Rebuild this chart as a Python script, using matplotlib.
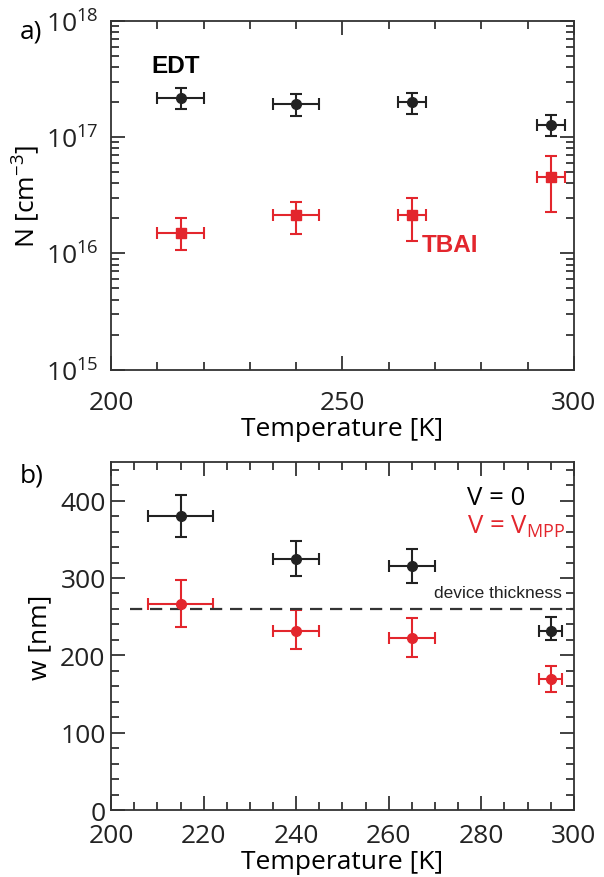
import matplotlib
matplotlib.use('Agg')
import matplotlib.pyplot as plt
import numpy as np

plt.rcParams['font.family'] = ['Open Sans', 'DejaVu Sans']
plt.rcParams['mathtext.fontset'] = 'custom'
plt.rcParams['mathtext.rm'] = 'Open Sans'
plt.rcParams['mathtext.it'] = 'Open Sans:italic'
plt.rcParams['mathtext.bf'] = 'Open Sans:bold'

RED = '#e3262d'
DARK = '#222222'

# panel a: doping density vs temperature
T_a = [215, 240, 265, 295]
T_a_err = [5, 5, 3, 3]
edt_N = [2.18e17, 1.91e17, 1.99e17, 1.26e17]
edt_lo = [1.73e17, 1.52e17, 1.57e17, 1.02e17]
edt_hi = [2.64e17, 2.35e17, 2.41e17, 1.54e17]
tbai_N = [1.50e16, 2.12e16, 2.12e16, 4.56e16]
tbai_lo = [1.07e16, 1.46e16, 1.28e16, 2.29e16]
tbai_hi = [2.00e16, 2.75e16, 2.99e16, 6.90e16]

# panel b: depletion width vs temperature
T_b = [215, 240, 265, 295]
T_b_err = [7, 5, 5, 2.5]
w_v0 = [380, 324, 316, 232]
w_v0_lo = [353, 302, 294, 220]
w_v0_hi = [407, 348, 338, 249]
w_mpp = [267, 232, 222, 169]
w_mpp_lo = [237, 208, 198, 152]
w_mpp_hi = [298, 259, 248, 186]
thickness = 260

a_yticks = [1e15, 1e16, 1e17, 1e18]
a_ylabels = ['$\\mathregular{10^{15}}$', '$\\mathregular{10^{16}}$',
             '$\\mathregular{10^{17}}$', '$\\mathregular{10^{18}}$']


def yerr(v, lo, hi):
    v = np.array(v)
    return [v - np.array(lo), np.array(hi) - v]


def style_axes(ax, xpad, ypad):
    for s in ax.spines.values():
        s.set_color('#333333')
        s.set_linewidth(1.3)
    ax.tick_params(which='both', direction='in', top=True, right=True,
                   colors='#333333', width=1.3, labelcolor='#222222',
                   labelsize=19)
    ax.tick_params(axis='x', which='both', pad=xpad)
    ax.tick_params(axis='y', which='both', pad=ypad)
    ax.tick_params(which='major', length=10)
    ax.tick_params(which='minor', length=6)


fig = plt.figure(figsize=(6.04, 8.78), dpi=100)
ax1 = fig.add_axes([0.184, 0.578, 0.766, 0.397])
ax2 = fig.add_axes([0.184, 0.0763, 0.766, 0.3964])

# ---- panel a
eb = dict(capsize=4.5, elinewidth=1.5, capthick=1.5, linestyle='none')
ax1.errorbar(T_a, edt_N, yerr=yerr(edt_N, edt_lo, edt_hi), xerr=T_a_err,
             fmt='o', color=DARK, ms=7, **eb)
ax1.errorbar(T_a, tbai_N, yerr=yerr(tbai_N, tbai_lo, tbai_hi), xerr=T_a_err,
             fmt='s', color=RED, ms=6.5, **eb)
ax1.set_yscale('log')
ax1.set_xlim(200, 300)
ax1.set_ylim(1e15, 1e18)
ax1.set_xticks([200, 250, 300])
ax1.set_xticks(np.arange(210, 300, 10), minor=True)
ax1.set_yticks(a_yticks)
ax1.set_yticklabels(a_ylabels)
ax1.yaxis.set_minor_locator(matplotlib.ticker.LogLocator(base=10, subs=np.arange(2, 10)))
ax1.yaxis.set_minor_formatter(matplotlib.ticker.NullFormatter())
style_axes(ax1, 15, 9)
ax1.set_xlabel('Temperature [K]', fontsize=19, labelpad=0.5)
ax1.set_ylabel('N [cm$^{-3}$]', fontsize=19, labelpad=3)
ax1.text(208.8, 4.1e17, 'EDT', fontsize=17.5, fontweight='bold',
         family='Liberation Sans', color='black', va='center')
ax1.text(267.2, 1.18e16, 'TBAI', fontsize=17.5, fontweight='bold',
         family='Liberation Sans', color=RED, va='center')
fig.text(0.032, 0.963, 'a)', fontsize=19, va='center')

# ---- panel b
ax2.errorbar(T_b, w_v0, yerr=yerr(w_v0, w_v0_lo, w_v0_hi), xerr=T_b_err,
             fmt='o', color=DARK, ms=7, **eb)
ax2.errorbar(T_b, w_mpp, yerr=yerr(w_mpp, w_mpp_lo, w_mpp_hi), xerr=T_b_err,
             fmt='o', color=RED, ms=7, **eb)
ax2.hlines(thickness, 204, 300, color='#333333', lw=1.6, ls=(0, (5.5, 3.5)))
ax2.set_xlim(200, 300)
ax2.set_ylim(0, 450)
ax2.set_xticks(np.arange(200, 301, 20))
ax2.set_xticks(np.arange(205, 300, 5), minor=True)
ax2.set_yticks(np.arange(0, 401, 100))
ax2.set_yticks(np.arange(20, 450, 20), minor=True)
style_axes(ax2, 9.5, 4)
ax2.set_xlabel('Temperature [K]', fontsize=19, labelpad=0.3)
ax2.set_ylabel('w [nm]', fontsize=19, labelpad=6)
ax2.text(297.4, 281, 'device thickness', fontsize=12.5, family='Liberation Sans',
         color='#222222', ha='right', va='center')
ax2.text(276.9, 404, 'V = 0', fontsize=18.5, color='black', va='center')
ax2.text(276.9, 367, 'V = V$_{\\mathregular{MPP}}$', fontsize=18.5, color=RED, va='center')
fig.text(0.032, 0.458, 'b)', fontsize=19, va='center')

fig.savefig('out.png', dpi=100)
